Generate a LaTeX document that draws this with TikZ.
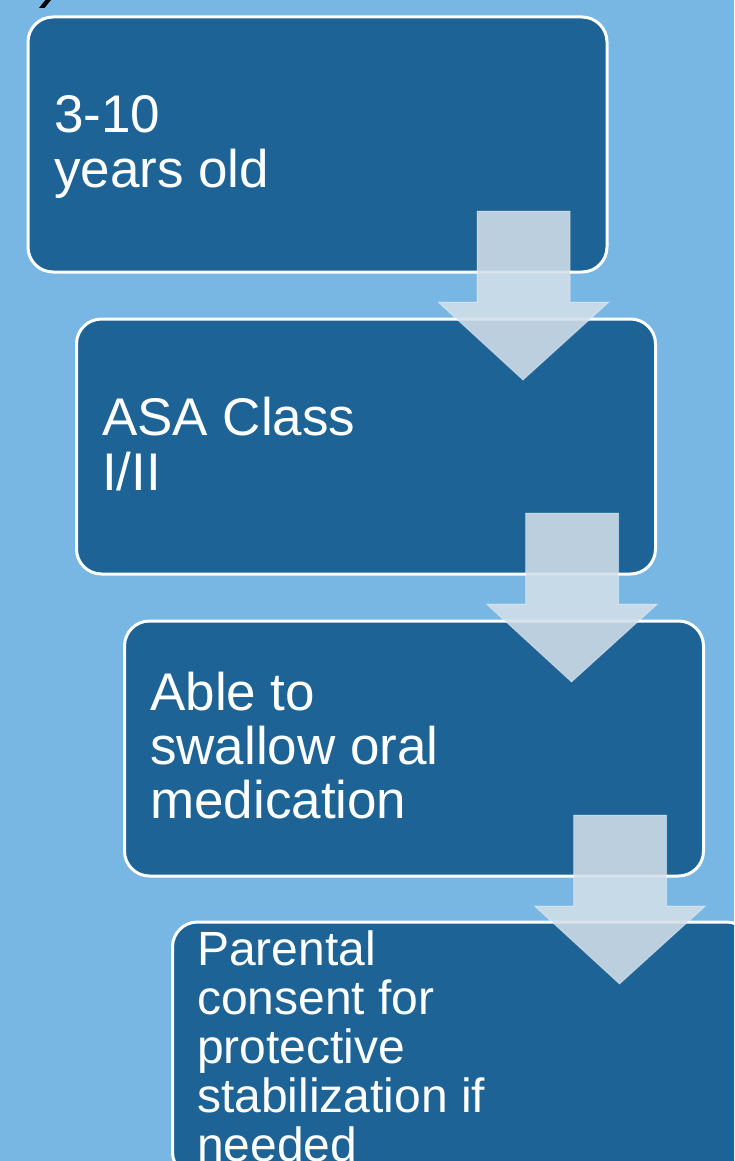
\documentclass[tikz,border=0pt]{standalone}
\usepackage{fontspec}
\setmainfont{Liberation Sans}
\usetikzlibrary{calc}
\definecolor{bgblue}{RGB}{120,182,228}
\definecolor{boxblue}{RGB}{30,99,150}
\definecolor{arrowc}{RGB}{211,223,233}
\tikzset{
  stepbox/.style={draw=white, line width=3pt, fill=boxblue, rounded corners=25pt,
    minimum width=579pt, minimum height=255pt, inner sep=0pt, outer sep=0pt},
  txt/.style={text=white, inner sep=0pt, anchor=base west, font=\fontsize{53}{55}\selectfont},
  txtsmall/.style={txt, font=\fontsize{48}{49}\selectfont},
  blockarrow/.style={fill=arrowc, fill opacity=0.88, draw=white, draw opacity=0.35, line width=1pt}
}
\begin{document}
\begin{tikzpicture}[x=1pt, y=-1pt]
\fill[bgblue] (0,0) rectangle (734,1161);
\useasboundingbox (0,0) rectangle (734,1161);
\clip (0,0) rectangle (734,1161);
% fragment of a glyph cut at the top edge
\fill[black] (39,8) -- (44.5,8) -- (51,0) -- (45.5,0) -- cycle;
% boxes
\node[stepbox] (b1) at (317.5,144.5) {};
\node[stepbox] (b2) at (366,446.5) {};
\node[stepbox] (b3) at (414,748.5) {};
\node[stepbox] (b4) at (462,1049.5) {};
% texts
\node[txt] (t1a) at (54,133) {3-10};
\node[txt] (t1b) at (54,188) {years old};
\node[txt] (t2a) at (102,435) {ASA Class};
\node[txt] (t2b) at (102,490) {I/II};
\node[txt] (t3a) at (150,710) {Able to};
\node[txt] (t3b) at (150,764) {swallow oral};
\node[txt] (t3c) at (150,818) {medication};
\node[txtsmall] (t4a) at (197,965) {Parental};
\node[txtsmall] (t4b) at (197,1014) {consent for};
\node[txtsmall] (t4c) at (197,1063) {protective};
\node[txtsmall] (t4d) at (197,1112) {stabilization if};
\node[txtsmall] (t4e) at (197,1161) {needed};
% block arrows
\foreach \a in {b1,b2,b3}{
  \draw[blockarrow]
    ($(\a.south east)+(-130,-61)$) -- ($(\a.south east)+(-37,-61)$) --
    ($(\a.south east)+(-37,30)$) -- ($(\a.south east)+(2,30)$) --
    ($(\a.south east)+(-84,108)$) -- ($(\a.south east)+(-169,30)$) --
    ($(\a.south east)+(-130,30)$) -- cycle;
}
\end{tikzpicture}
\end{document}
